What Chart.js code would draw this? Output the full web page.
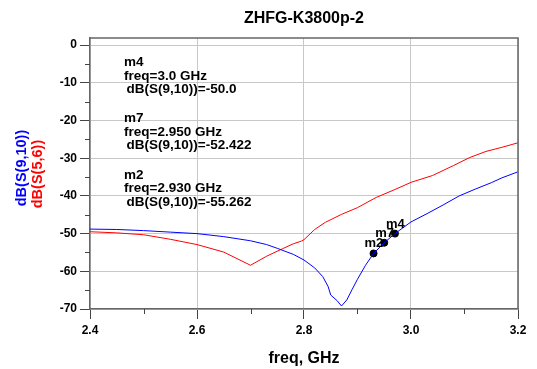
<!DOCTYPE html>
<html lang="en">
<head>
<meta charset="UTF-8">
<title>ZHFG-K3800p-2</title>
<script src="https://cdn.jsdelivr.net/npm/chart.js"></script>
<style>
  body { margin: 0; background: #fff; }
  #wrap { width: 537px; height: 369px; }
</style>
</head>
<body>
<div id="wrap"><canvas id="grafico"></canvas></div>
<script>
// dB(S(9,10)) - blue
const freqBlue = [2.40, 2.45, 2.50, 2.55, 2.60, 2.65, 2.70, 2.73, 2.75, 2.78, 2.80, 2.82, 2.835, 2.845, 2.85, 2.862, 2.87, 2.88, 2.89, 2.90, 2.915, 2.93, 2.95, 2.97, 3.00, 3.03, 3.06, 3.09, 3.12, 3.15, 3.17, 3.20];
const s910 = [-48.8, -48.9, -49.2, -49.6, -50.0, -50.8, -51.9, -52.9, -53.9, -55.5, -57.0, -59.1, -61.4, -64.0, -66.3, -67.8, -69.2, -67.6, -64.8, -62.1, -58.4, -55.262, -52.422, -50.0, -46.9, -44.7, -42.4, -40.0, -38.2, -36.5, -35.2, -33.6];

// dB(S(5,6)) - red
const freqRed = [2.40, 2.45, 2.50, 2.55, 2.60, 2.65, 2.70, 2.73, 2.76, 2.78, 2.795, 2.80, 2.82, 2.84, 2.87, 2.90, 2.935, 2.97, 3.00, 3.04, 3.08, 3.11, 3.14, 3.17, 3.20];
const s56 = [-49.5, -49.8, -50.3, -51.5, -52.9, -54.9, -58.4, -56.0, -54.0, -52.7, -52.0, -51.6, -48.9, -47.0, -44.9, -43.1, -40.4, -38.3, -36.4, -34.6, -31.9, -29.8, -28.2, -27.1, -25.9];

// markers
const markerNames = ['m2', 'm7', 'm4'];
const markerFreq = [2.93, 2.95, 2.97];
const markerDb = [-55.262, -52.422, -50.0];
const markerFreqText = ['2.930', '2.950', '3.0'];
const markerDbText = ['-55.262', '-52.422', '-50.0'];

// ticks
const xTicks = [2.4, 2.6, 2.8, 3.0, 3.2];
const xMinor = [2.5, 2.7, 2.9, 3.1];
const yTicks = [-70, -60, -50, -40, -30, -20, -10, 0];
const yMinor = [-65, -55, -45, -35, -25, -15, -5];

const fonte = '"Liberation Sans", Arial, sans-serif';

const extras = {
    id: 'extras',
    afterDraw(chart) {
        const ctx = chart.ctx;
        const a = chart.chartArea;
        const sx = chart.scales.x;
        const sy = chart.scales.y;
        ctx.save();

        // moldura em cima e na direita
        ctx.strokeStyle = '#666';
        ctx.lineWidth = 1.5;
        ctx.beginPath();
        ctx.moveTo(a.left, a.top);
        ctx.lineTo(a.right, a.top);
        ctx.lineTo(a.right, a.bottom);
        ctx.stroke();

        // ticks menores
        ctx.lineWidth = 1;
        ctx.strokeStyle = '#444';
        ctx.beginPath();
        xMinor.forEach(v => {
            const px = Math.round(sx.getPixelForValue(v)) + 0.5;
            ctx.moveTo(px, a.bottom);
            ctx.lineTo(px, a.bottom + 5);
        });
        yMinor.forEach(v => {
            const py = Math.round(sy.getPixelForValue(v)) + 0.5;
            ctx.moveTo(a.left - 5, py);
            ctx.lineTo(a.left, py);
        });
        ctx.stroke();

        // titulo
        ctx.fillStyle = '#000';
        ctx.font = 'bold 16px ' + fonte;
        ctx.textAlign = 'center';
        ctx.textBaseline = 'alphabetic';
        ctx.fillText('ZHFG-K3800p-2', (a.left + a.right) / 2, 23);

        // titulos do eixo y
        ctx.font = 'bold 14.5px ' + fonte;
        ctx.textBaseline = 'middle';
        ctx.save();
        ctx.translate(22, 168);
        ctx.rotate(-Math.PI / 2);
        ctx.fillStyle = '#0000ff';
        ctx.fillText('dB(S(9,10))', 0, 0);
        ctx.restore();
        ctx.save();
        ctx.translate(38, 174);
        ctx.rotate(-Math.PI / 2);
        ctx.fillStyle = '#ff0000';
        ctx.fillText('dB(S(5,6))', 0, 0);
        ctx.restore();

        // caixas de texto dos marcadores (m4, m7, m2 de cima para baixo)
        ctx.fillStyle = '#000';
        ctx.textAlign = 'left';
        ctx.textBaseline = 'alphabetic';
        ctx.font = 'bold 13.5px ' + fonte;
        const ordem = [2, 1, 0];
        ordem.forEach((i, k) => {
            const y0 = 66 + k * 56.3;
            ctx.fillText(markerNames[i], 124, y0);
            ctx.fillText('freq=' + markerFreqText[i] + ' GHz', 124, y0 + 13.5);
            ctx.fillText('dB(S(9,10))=' + markerDbText[i], 126.5, y0 + 27);
        });

        // rotulos nos pontos
        ctx.font = 'bold 13px ' + fonte;
        markerNames.forEach((n, i) => {
            const px = sx.getPixelForValue(markerFreq[i]);
            const py = sy.getPixelForValue(markerDb[i]);
            ctx.fillText(n, px - 9, py - 6);
        });

        ctx.restore();
    }
};

const dados = {
    datasets: [
        {
            label: 'dB(S(9,10))',
            data: freqBlue.map((f, i) => ({ x: f, y: s910[i] })),
            borderColor: '#0000ff',
            borderWidth: 1,
            pointRadius: 0,
            tension: 0
        },
        {
            label: 'dB(S(5,6))',
            data: freqRed.map((f, i) => ({ x: f, y: s56[i] })),
            borderColor: '#ff0000',
            borderWidth: 1,
            pointRadius: 0,
            tension: 0
        },
        {
            label: 'markers',
            data: markerFreq.map((f, i) => ({ x: f, y: markerDb[i] })),
            showLine: false,
            pointRadius: 3.5,
            pointBackgroundColor: '#000',
            pointBorderColor: '#000'
        }
    ]
};

const config = {
    type: 'line',
    data: dados,
    options: {
        responsive: true,
        maintainAspectRatio: false,
        animation: false,
        devicePixelRatio: 1,
        layout: { padding: { left: 48, right: 19, top: 38, bottom: 0 } },
        plugins: {
            legend: { display: false },
            tooltip: { enabled: false }
        },
        scales: {
            x: {
                type: 'linear',
                min: 2.4,
                max: 3.2,
                afterBuildTicks: s => { s.ticks = xTicks.map(v => ({ value: v })); },
                afterFit: s => { s.height = 60; },
                ticks: {
                    autoSkip: false,
                    maxRotation: 0,
                    padding: 4,
                    color: '#000',
                    font: { family: fonte, size: 12, weight: 'bold' },
                    callback: v => v.toFixed(1)
                },
                grid: { color: '#c8c8c8', tickColor: '#444', tickLength: 10, lineWidth: 1 },
                border: { color: '#666', width: 1.5 },
                title: {
                    display: true,
                    text: 'freq, GHz',
                    color: '#000',
                    font: { family: fonte, size: 16, weight: 'bold' },
                    padding: { top: 0, bottom: 1 }
                }
            },
            y: {
                min: -70,
                max: 1.9,
                afterBuildTicks: s => { s.ticks = yTicks.map(v => ({ value: v })); },
                afterFit: s => { s.width = 42; },
                ticks: {
                    padding: 3,
                    color: '#000',
                    font: { family: fonte, size: 12, weight: 'bold' },
                    callback: v => v
                },
                grid: { color: '#c8c8c8', tickColor: '#444', tickLength: 10, lineWidth: 1 },
                border: { color: '#666', width: 1.5 }
            }
        }
    },
    plugins: [extras]
};

let myChart = new Chart(document.getElementById('grafico'), config);
</script>
</body>
</html>
